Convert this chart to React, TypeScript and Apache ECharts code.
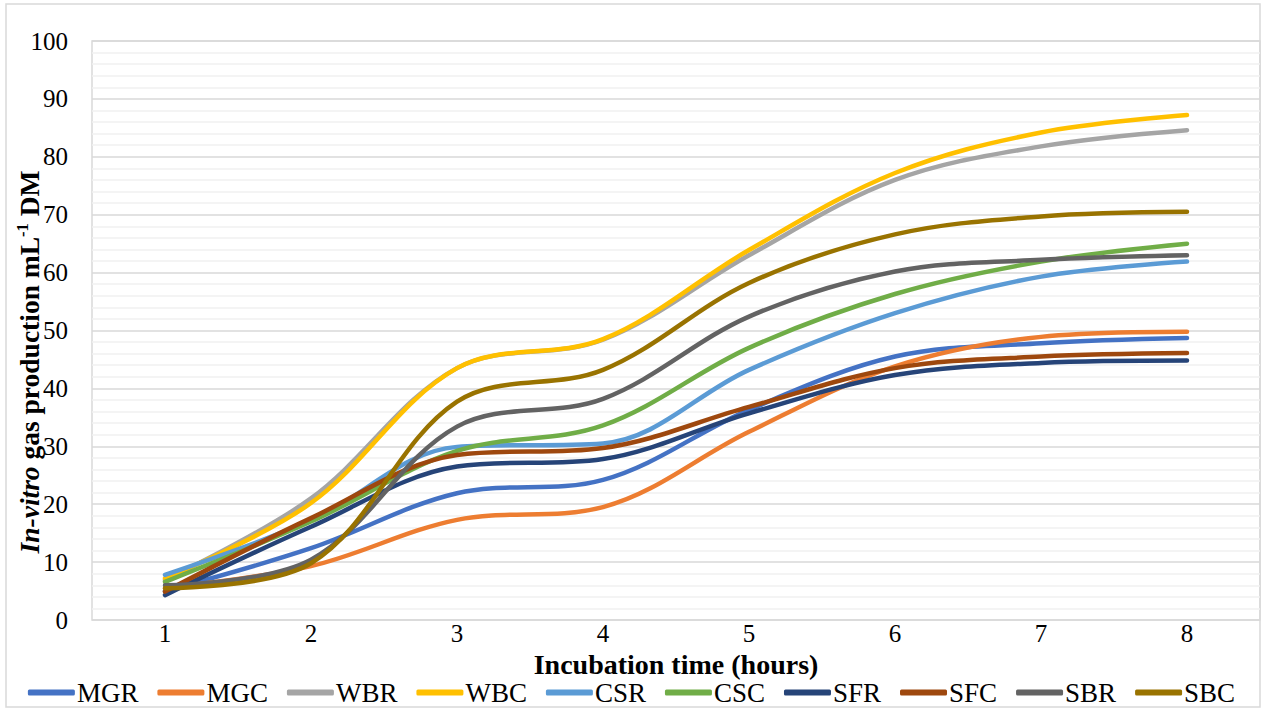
import React, { useEffect, useRef } from "react";
import * as echarts from "echarts";

const categories = ["1", "2", "3", "4", "5", "6", "7", "8"];
const seriesNames = ["MGR", "MGC", "WBR", "WBC", "CSR", "CSC", "SFR", "SFC", "SBR", "SBC"];
const MGR = [5.0, 12.4, 21.9, 24.2, 36.3, 45.5, 47.8, 48.7];
const MGC = [5.5, 9.3, 17.3, 19.5, 32.5, 43.8, 48.9, 49.8];
const WBR = [6.9, 21.0, 43.5, 48.4, 63.0, 76.0, 81.8, 84.6];
const WBC = [7.2, 20.2, 43.5, 48.5, 63.9, 77.2, 84.2, 87.2];
const CSR = [7.8, 17.2, 29.9, 30.5, 43.2, 53.0, 59.3, 61.9];
const CSC = [6.6, 17.0, 29.2, 33.6, 47.0, 56.3, 61.9, 65.0];
const SFR = [4.3, 16.1, 26.5, 27.8, 35.7, 42.3, 44.4, 44.8];
const SFC = [4.9, 17.6, 28.5, 29.7, 36.8, 43.5, 45.5, 46.1];
const SBR = [6.0, 10.4, 33.4, 38.2, 52.4, 60.2, 62.2, 63.0];
const SBC = [5.5, 9.8, 37.7, 43.2, 58.2, 66.6, 69.7, 70.5];
const seriesValues = [MGR, MGC, WBR, WBC, CSR, CSC, SFR, SFC, SBR, SBC];
const colors = ["#4472C4", "#ED7D31", "#A5A5A5", "#FFC000", "#5B9BD5", "#70AD47", "#264478", "#9E480E", "#636363", "#997300"];

const xTitle = "Incubation time (hours)";
const FONT = "'Liberation Serif', 'Times New Roman', serif";

export default function App() {
  const ref = useRef<HTMLDivElement>(null);
  useEffect(() => {
    if (!ref.current) return;
    const chart = echarts.init(ref.current, null, { renderer: "svg" });
    chart.setOption({
      animation: false,
      backgroundColor: "#ffffff",
      color: colors,
      textStyle: { fontFamily: FONT },
      grid: {
        left: 92,
        right: 3,
        top: 41,
        bottom: 91,
        show: true,
        borderColor: "#d9d9d9",
        borderWidth: 1.5,
      },
      xAxis: {
        type: "category",
        data: categories,
        boundaryGap: true,
        axisLine: { show: false },
        axisTick: { show: false },
        axisLabel: { fontSize: 25, color: "#000", fontFamily: FONT, margin: 1 },
        splitLine: { show: false },
        name: xTitle,
        nameLocation: "middle",
        nameGap: 26,
        nameTextStyle: { fontSize: 28, fontWeight: "bold", color: "#000", fontFamily: FONT },
      },
      yAxis: {
        type: "value",
        min: 0,
        max: 100,
        interval: 10,
        axisLine: { show: false },
        axisTick: { show: false },
        axisLabel: { fontSize: 25, color: "#000", fontFamily: FONT, margin: 24 },
        splitLine: { show: true, lineStyle: { color: "#d9d9d9", width: 1.5 } },
        minorTick: { show: false, splitNumber: 5 },
        minorSplitLine: { show: true, lineStyle: { color: "#f0f0f0", width: 1.5 } },
      },
      legend: {
        data: seriesNames,
        top: 674,
        left: "center",
        icon: "roundRect",
        itemWidth: 47,
        itemHeight: 6,
        itemGap: 19,
        textStyle: { fontSize: 27, color: "#000", fontFamily: FONT, padding: [0, 0, 0, -3] },
      },
      graphic: [
        {
          type: "rect",
          shape: { x: 6, y: 4, width: 1254, height: 703 },
          style: { fill: "none", stroke: "#d9d9d9", lineWidth: 1.5 },
          silent: true,
        },
        {
          type: "text",
          x: 29,
          y: 362,
          rotation: Math.PI / 2,
          style: {
            text: "{i|In-vitro}{b| gas production mL}{s|-1}{b| DM}",
            align: "center",
            verticalAlign: "middle",
            fill: "#000",
            rich: {
              i: { fontSize: 27.5, fontWeight: "bold", fontStyle: "italic", fontFamily: FONT, fill: "#000", lineHeight: 31 },
              b: { fontSize: 27.5, fontWeight: "bold", fontFamily: FONT, fill: "#000", lineHeight: 31 },
              s: { fontSize: 16.5, fontWeight: "bold", fontFamily: FONT, fill: "#000", verticalAlign: "top", lineHeight: 31 },
            },
          },
        },
      ],
      series: seriesNames.map((n, i) => ({
        name: n,
        type: "line",
        data: seriesValues[i],
        smooth: 0.35,
        symbol: "none",
        showSymbol: false,
        lineStyle: { width: 4.5, color: colors[i], cap: "round" },
        itemStyle: { color: colors[i] },
      })),
    });
    return () => chart.dispose();
  }, []);
  return (
    <div
      ref={ref}
      style={{ position: "fixed", left: 0, top: 0, width: 1263, height: 711 }}
    />
  );
}
